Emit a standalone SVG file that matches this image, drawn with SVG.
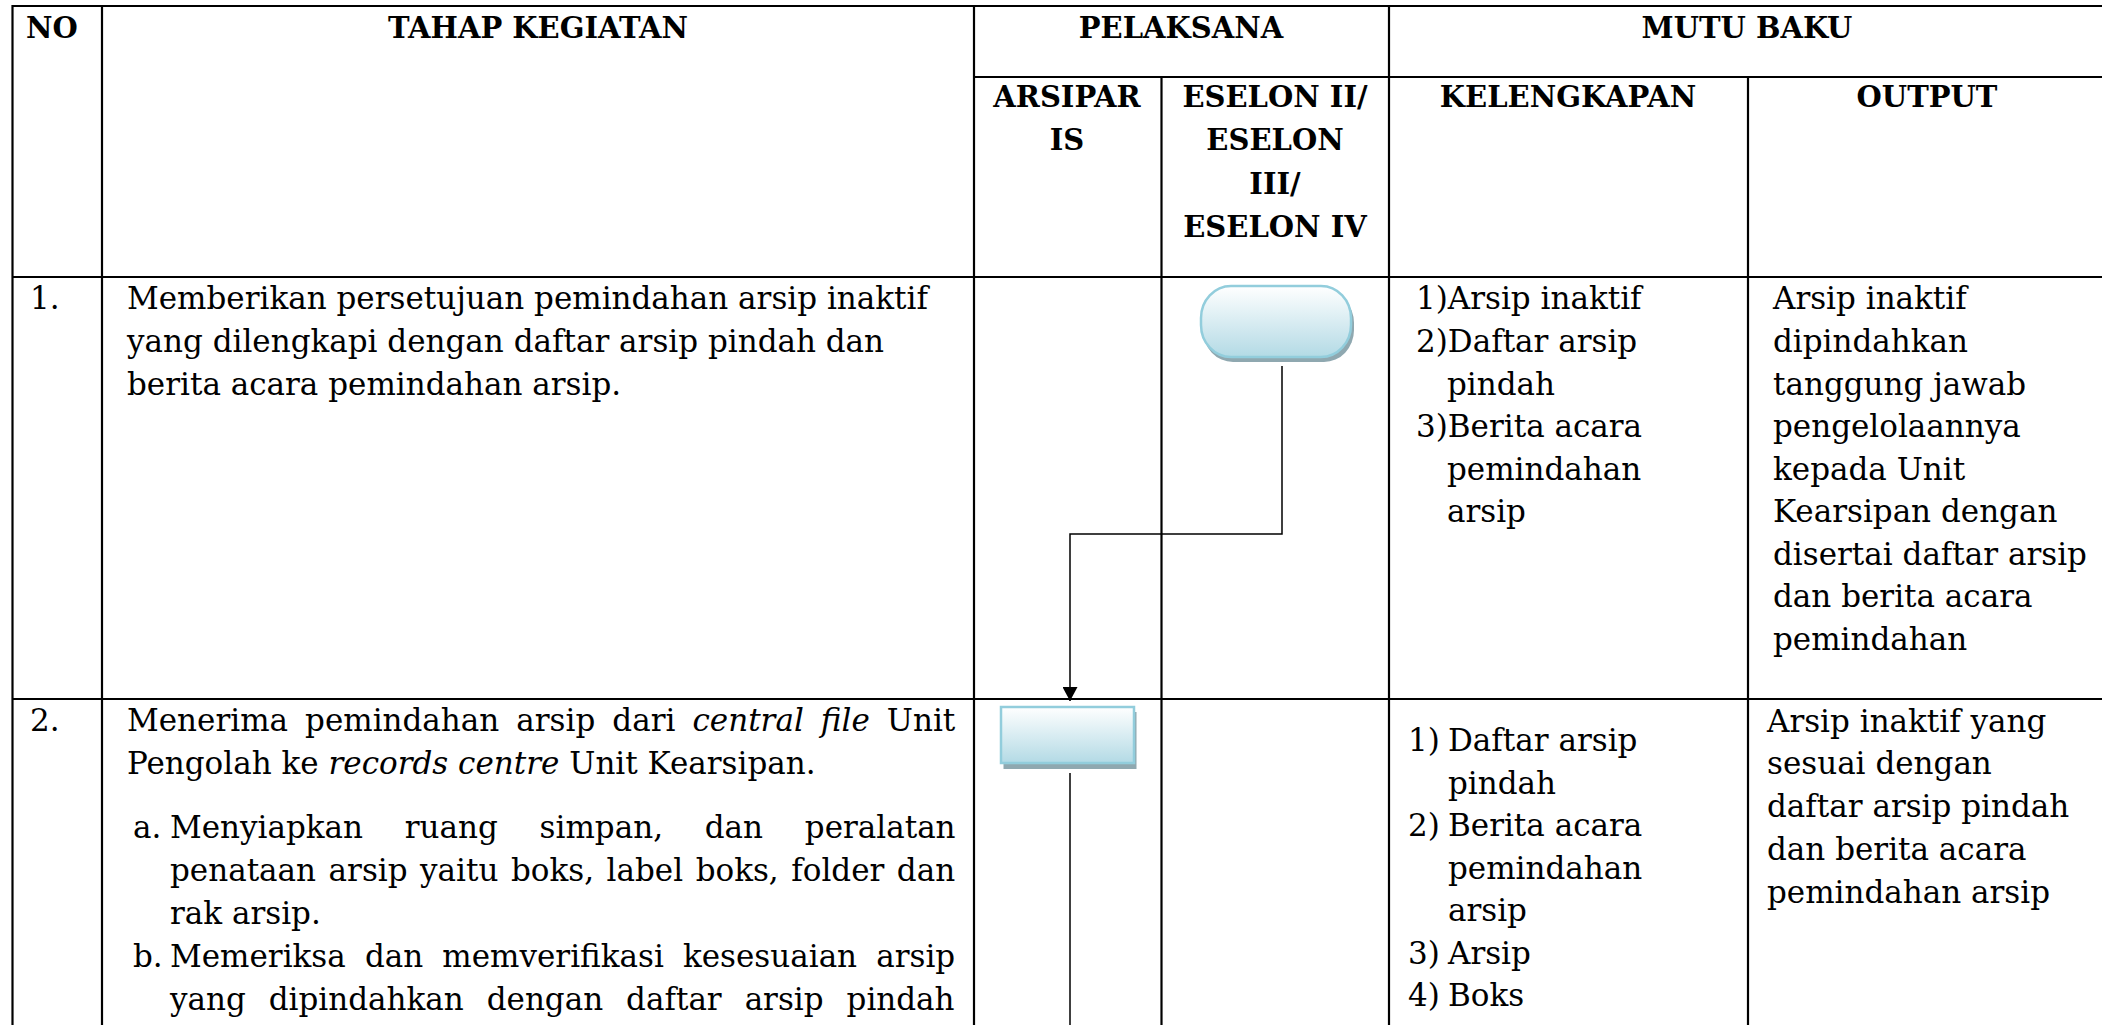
<svg xmlns="http://www.w3.org/2000/svg" width="2102" height="1025" viewBox="0 0 2102 1025">
<style>
.grid line{stroke:#000;stroke-width:2.2}
.h{font-family:"DejaVu Serif","Liberation Serif",serif;font-weight:bold;font-size:29px;fill:#000;text-anchor:middle}
.t{font-family:"DejaVu Serif","Liberation Serif",serif;font-size:31px;fill:#000}
.i{font-style:italic}
.conn{fill:none;stroke:#000;stroke-width:1.5}
</style>
<defs>
<linearGradient id="fillg" x1="0" y1="0" x2="0" y2="1">
<stop offset="0" stop-color="#ffffff"/>
<stop offset="1" stop-color="#b3dae5"/>
</linearGradient>
<marker id="arr" markerUnits="userSpaceOnUse" viewBox="0 0 14 15" refX="14" refY="7.5" markerWidth="14" markerHeight="15" orient="auto">
<path d="M0,0 L14,7.5 L0,15 z" fill="#000"/>
</marker>
</defs>
<rect width="2102" height="1025" fill="#fff"/>
<g id="table" class="grid">
<line x1="12" y1="6" x2="2102" y2="6"/>
<line x1="974" y1="77" x2="2102" y2="77"/>
<line x1="12" y1="277" x2="2102" y2="277"/>
<line x1="12" y1="699" x2="2102" y2="699"/>
<line x1="12.5" y1="5" x2="12.5" y2="1025"/>
<line x1="102" y1="5" x2="102" y2="1025"/>
<line x1="974" y1="5" x2="974" y2="1025"/>
<line x1="1161.5" y1="77" x2="1161.5" y2="1025"/>
<line x1="1389" y1="5" x2="1389" y2="1025"/>
<line x1="1748" y1="77" x2="1748" y2="1025"/>
</g>
<g id="header">
<text class="h" x="52" y="37.5">NO</text>
<text class="h" x="538" y="37.5">TAHAP KEGIATAN</text>
<text class="h" x="1181" y="37.5">PELAKSANA</text>
<text class="h" x="1747" y="37.5">MUTU BAKU</text>
<text class="h" x="1067" y="107">ARSIPAR</text>
<text class="h" x="1067" y="150">IS</text>
<text class="h" x="1275" y="107">ESELON II/</text>
<text class="h" x="1275" y="150">ESELON</text>
<text class="h" x="1275" y="193.5">III/</text>
<text class="h" x="1275" y="237">ESELON IV</text>
<text class="h" x="1568" y="107">KELENGKAPAN</text>
<text class="h" x="1927" y="107">OUTPUT</text>
</g>
<g id="row1">
<text class="t" x="30" y="309">1.</text>
<text class="t" x="127" y="309">Memberikan persetujuan pemindahan arsip inaktif</text>
<text class="t" x="127" y="352">yang dilengkapi dengan daftar arsip pindah dan</text>
<text class="t" x="127" y="394.5">berita acara pemindahan arsip.</text>
<text class="t" x="1416" y="309">1)Arsip inaktif</text>
<text class="t" x="1416" y="352">2)Daftar arsip</text>
<text class="t" x="1447" y="394.5">pindah</text>
<text class="t" x="1416" y="437">3)Berita acara</text>
<text class="t" x="1447" y="479.5">pemindahan</text>
<text class="t" x="1447" y="522">arsip</text>
<text class="t" x="1773" y="309">Arsip inaktif</text>
<text class="t" x="1773" y="352">dipindahkan</text>
<text class="t" x="1773" y="394.5">tanggung jawab</text>
<text class="t" x="1773" y="437">pengelolaannya</text>
<text class="t" x="1773" y="479.5">kepada Unit</text>
<text class="t" x="1773" y="522">Kearsipan dengan</text>
<text class="t" x="1773" y="564.5">disertai daftar arsip</text>
<text class="t" x="1773" y="607">dan berita acara</text>
<text class="t" x="1773" y="649.5">pemindahan</text>
</g>
<g id="row2">
<text class="t" x="30" y="731">2.</text>
<text class="t" x="127" y="731" word-spacing="7.2">Menerima pemindahan arsip dari <tspan class="i">central file</tspan> Unit</text>
<text class="t" x="127" y="774">Pengolah ke <tspan class="i">records centre</tspan> Unit Kearsipan.</text>
<text class="t" y="838"><tspan x="133">a.</tspan> <tspan x="170" word-spacing="31.9">Menyiapkan ruang simpan, dan peralatan</tspan></text>
<text class="t" x="170" y="881" word-spacing="2.7">penataan arsip yaitu boks, label boks, folder dan</text>
<text class="t" x="170" y="924">rak arsip.</text>
<text class="t" y="967"><tspan x="133">b.</tspan> <tspan x="170" word-spacing="9.3">Memeriksa dan memverifikasi kesesuaian arsip</tspan></text>
<text class="t" x="170" y="1010" word-spacing="13.1">yang dipindahkan dengan daftar arsip pindah</text>
<text class="t" y="751"><tspan x="1408">1)</tspan> <tspan x="1448">Daftar arsip</tspan></text>
<text class="t" x="1448" y="793.5">pindah</text>
<text class="t" y="836"><tspan x="1408">2)</tspan> <tspan x="1448">Berita acara</tspan></text>
<text class="t" x="1448" y="878.5">pemindahan</text>
<text class="t" x="1448" y="921">arsip</text>
<text class="t" y="963.5"><tspan x="1408">3)</tspan> <tspan x="1448">Arsip</tspan></text>
<text class="t" y="1006"><tspan x="1408">4)</tspan> <tspan x="1448">Boks</tspan></text>
<text class="t" x="1767" y="731.5">Arsip inaktif yang</text>
<text class="t" x="1767" y="774">sesuai dengan</text>
<text class="t" x="1767" y="817">daftar arsip pindah</text>
<text class="t" x="1767" y="859.5">dan berita acara</text>
<text class="t" x="1767" y="902.5">pemindahan arsip</text>
</g>
<g id="node-start">
<rect x="1203" y="291" width="151" height="71" rx="30" ry="32" fill="#8fa8b0"/>
<rect x="1201" y="286" width="150" height="71" rx="30" ry="32" fill="url(#fillg)" stroke="#92cddc" stroke-width="2.5"/>
</g>
<g id="node-terima">
<rect x="1003.5" y="712" width="133" height="57" fill="#8fa8b0"/>
<rect x="1001" y="707" width="133" height="56" fill="url(#fillg)" stroke="#92cddc" stroke-width="2.5"/>
</g>
<g id="connectors">
<polyline class="conn" points="1282,366 1282,534 1070,534 1070,701" marker-end="url(#arr)"/>
<line class="conn" x1="1070" y1="773" x2="1070" y2="1025"/>
</g>
</svg>
